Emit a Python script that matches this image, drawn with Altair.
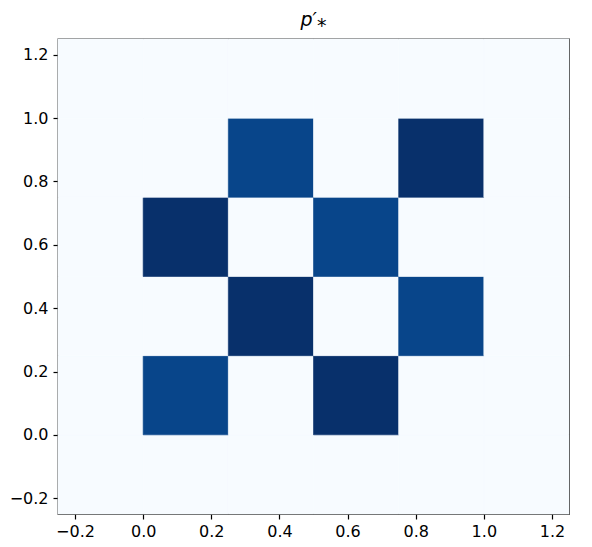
import altair as alt
import pandas as pd

# grid cell lower-left edges (cell size 0.25), extent -0.25..1.25
x_edges = [-0.25, 0.0, 0.25, 0.5, 0.75, 1.0]
y_edges = [-0.25, 0.0, 0.25, 0.5, 0.75, 1.0]
cell = 0.25
# values per row (bottom row first), columns left to right
row_m025 = [0.0, 0.0, 0.0, 0.0, 0.0, 0.0]
row_000 = [0.0, 0.92, 0.0, 1.0, 0.0, 0.0]
row_025 = [0.0, 0.0, 1.0, 0.0, 0.92, 0.0]
row_050 = [0.0, 1.0, 0.0, 0.92, 0.0, 0.0]
row_075 = [0.0, 0.0, 0.92, 0.0, 1.0, 0.0]
row_100 = [0.0, 0.0, 0.0, 0.0, 0.0, 0.0]
rows = [row_m025, row_000, row_025, row_050, row_075, row_100]

tick_values = [-0.2, 0.0, 0.2, 0.4, 0.6, 0.8, 1.0, 1.2]
blues = ["#f7fbff", "#deebf7", "#c6dbef", "#9ecae1", "#6baed6",
         "#4292c6", "#2171b5", "#08519c", "#08306b"]

records = []
for yi, yv in enumerate(y_edges):
    for xi, xv in enumerate(x_edges):
        records.append({"x": xv, "x2": xv + cell, "y": yv, "y2": yv + cell,
                        "v": rows[yi][xi]})
df = pd.DataFrame(records)

label_expr = "replace(format(datum.value, '.1f'), '-', '\u2212')"

axis_common = dict(
    values=tick_values, labelExpr=label_expr, grid=False, domain=False,
    tickColor="black", tickSize=5, tickWidth=1.2, labelColor="black",
    labelFontSize=16, labelFont="DejaVu Sans", title=None,
)

color_domain = [i / 8 for i in range(9)]

chart = alt.Chart(df).mark_rect(strokeWidth=0.6).encode(
    x=alt.X("x:Q", scale=alt.Scale(domain=[-0.25, 1.25], nice=False, zero=False),
            axis=alt.Axis(labelPadding=4, **axis_common)),
    x2="x2:Q",
    y=alt.Y("y:Q", scale=alt.Scale(domain=[-0.25, 1.25], nice=False, zero=False),
            axis=alt.Axis(labelPadding=5, **axis_common)),
    y2="y2:Q",
    color=alt.Color("v:Q", scale=alt.Scale(domain=color_domain, range=blues,
                                           interpolate="rgb"), legend=None),
    stroke=alt.Color("v:Q", scale=alt.Scale(domain=color_domain, range=blues,
                                            interpolate="rgb"), legend=None),
).properties(
    width=511, height=475,
    title=alt.TitleParams("p\u2032\u204e", fontStyle="italic", font="DejaVu Sans",
                          fontSize=19, fontWeight="normal", color="black",
                          anchor="middle", offset=9),
    autosize=alt.AutoSizeParams(type="none"),
    padding={"left": 50, "top": 31, "right": 15, "bottom": 25},
).configure_view(stroke="black", strokeWidth=1.3)

chart.save("out.html", embed_options={"renderer": "svg", "actions": False})
